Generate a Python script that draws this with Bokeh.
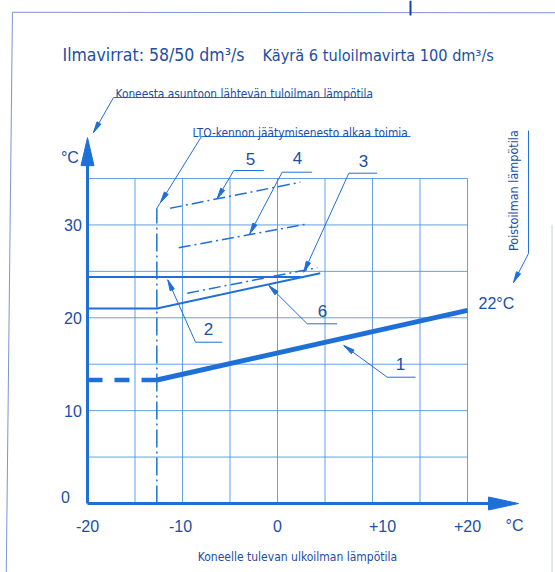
import numpy as np
from bokeh.plotting import figure
from bokeh.models import Range1d
from bokeh.core.properties import value
from bokeh.embed import file_html
from bokeh.resources import INLINE

# ---------------- data ----------------
x_ticks = [-20, -10, 0, 10, 20]
x_tick_labels = ["-20", "-10", "0", "+10", "+20"]
y_ticks = [0, 10, 20, 30]
y_tick_labels = ["0", "10", "20", "30"]
grid_x = [-15, -10, -5, 0, 5, 10, 15, 20]
grid_y = [5, 10, 15, 20, 25, 30, 35]

frost_x = -12.7          # LTO-kennon jäätymisenesto alkaa toimia
frost_top = 31.8

c1_flat_x = [-20, -12.7]
c1_flat_y = [13.3, 13.3]
c1_x = [-12.7, 20]
c1_y = [13.3, 20.8]
c2_x = [-20, 2.5]
c2_y = [24.4, 24.4]
c3_x = [-9.5, 4.2]
c3_y = [22.65, 25.4]
c4_x = [-10.4, 3.1]
c4_y = [27.55, 30.1]
c5_x = [-11.3, 2.4]
c5_y = [31.8, 34.6]
c6_x = [-20, -12.7, 4.5]
c6_y = [21.0, 21.0, 24.8]

# ---------------- figure ----------------
W, H = 555, 572
X0, X1 = -29.158, 29.263
Y0, Y1 = -7.431, 54.17
SX = W / (X1 - X0)
SY = H / (Y1 - Y0)

p = figure(width=W, height=H, x_range=Range1d(X0, X1), y_range=Range1d(Y0, Y1),
           x_axis_type=None, y_axis_type=None, output_backend="svg",
           toolbar_location=None, min_border=0)
p.outline_line_color = None
p.grid.visible = False
p.background_fill_color = "white"

LINE = "#1f6fd8"
GRID = "#4a8fdc"
TXT = "#1b4ea6"
NARROW = value("'Noto Sans Condensed', 'DejaVu Sans Condensed', 'Roboto Condensed', Roboto, sans-serif")
SANS = value("Liberation Sans")


def head(tip, back, length, half):
    dx = (tip[0] - back[0]) * SX
    dy = (tip[1] - back[1]) * SY
    n = np.hypot(dx, dy)
    ux, uy = dx / n, dy / n
    bx, by = -ux * length, -uy * length
    nx, ny = -uy * half, ux * half
    xs = [tip[0], tip[0] + (bx + nx) / SX, tip[0] + (bx - nx) / SX]
    ys = [tip[1], tip[1] + (by + ny) / SY, tip[1] + (by - ny) / SY]
    return xs, ys


# scan frame lines
p.line([-27.9, -28.55], [52.9, Y0], line_color="#7d95c8", line_width=1)
p.line([-27.9, X1], [52.9, 52.85], line_color="#7d95c8", line_width=1)
p.line([14.0, 14.0], [52.55, Y1], line_color="#1a3fb0", line_width=2)
p.line([28.9, 28.9], [Y0, 30], line_color="#c8cfdc", line_width=1)

# grid
p.segment(x0=grid_x, y0=[0] * len(grid_x), x1=grid_x, y1=[35] * len(grid_x),
          line_color=GRID, line_width=1, line_alpha=0.85)
p.segment(x0=[-20] * len(grid_y), y0=grid_y, x1=[20] * len(grid_y), y1=grid_y,
          line_color=GRID, line_width=1, line_alpha=0.85)

# axes with arrows
yax_tip = (-20, 39.4)
xax_tip = (25.37, 0)
hx, hy = head(yax_tip, (-20, 0), 28, 6.5)
p.patch(hx, hy, fill_color=LINE, line_color=LINE)
p.line([-20, -20], [0, yax_tip[1] - 20 / SY], line_color=LINE, line_width=3)
hx, hy = head(xax_tip, (-20, 0), 30, 6.5)
p.patch(hx, hy, fill_color=LINE, line_color=LINE)
p.line([-20, xax_tip[0] - 22 / SX], [0, 0], line_color=LINE, line_width=3)

# frost protection vertical line
p.line([frost_x, frost_x], [0, frost_top], line_color=LINE, line_width=1.5,
       line_dash="18 4 2 4")

# curves
p.line(c1_flat_x, c1_flat_y, line_color=LINE, line_width=4.5, line_dash="15 12")
p.line(c1_x, c1_y, line_color=LINE, line_width=5)
p.line(c6_x, c6_y, line_color=LINE, line_width=2)
p.line(c2_x, c2_y, line_color=LINE, line_width=2)
for cx, cy in [(c3_x, c3_y), (c4_x, c4_y), (c5_x, c5_y)]:
    p.line(cx, cy, line_color=LINE, line_width=1.5, line_dash="12 4 2 4")

# leader lines (annotation positions)
leaders = [
    ([-6.36, -4.60, -1.44], [32.81, 35.86, 35.86]),   # 5
    ([-2.92, 0.49, 3.64], [29.04, 35.68, 35.68]),     # 4
    ([2.77, 7.51, 10.49], [24.91, 35.57, 35.57]),     # 3
    ([-0.92, 3.13, 6.28], [23.48, 19.35, 19.35]),     # 6
    ([-11.55, -8.63, -5.82], [24.09, 17.37, 17.37]),  # 2
    ([6.98, 11.55, 14.53], [17.02, 13.60, 13.60]),    # 1
    ([-19.37, -17.26, 9.79], [39.95, 43.72, 43.72]),  # Koneesta ...
    ([-12.32, -8.0, 14.0], [32.41, 39.52, 39.52]),    # LTO ...
    ([24.84, 26.42, 26.42], [23.80, 26.92, 40.17]),   # Poistoilman ...
]
p.multi_line([l[0] for l in leaders], [l[1] for l in leaders],
             line_color=LINE, line_width=1)
p.line([frost_x, -12.32], [frost_top, 32.41], line_color=LINE, line_width=1)
hxs, hys = [], []
for lx, ly in leaders:
    xs, ys = head((lx[0], ly[0]), (lx[1], ly[1]), 11, 2.3)
    hxs.append(xs)
    hys.append(ys)
p.patches(hxs, hys, fill_color=LINE, line_color=LINE, line_width=1)

# tick labels
p.text(x=[t for t in x_ticks], y=[-2.37] * len(x_ticks), text=x_tick_labels,
       x_offset=[0, -2, 0, 10, 0],
       text_font=SANS, text_font_size="16px", text_color=TXT,
       text_align="center", text_baseline="middle")
p.text(x=[-20.6] * len(y_ticks), y=y_ticks, text=y_tick_labels,
       x_offset=[-12, 0, 0, 0], y_offset=[-6, 0, 0, 0],
       text_font=SANS, text_font_size="16px", text_color=TXT,
       text_align="right", text_baseline="middle")
p.text(x=[24.0], y=[-2.37], text=["°C"], text_font=SANS, text_font_size="16px",
       text_color=TXT, text_align="left", text_baseline="middle")
p.text(x=[-22.8], y=[37.3], text=["°C"], text_font=SANS, text_font_size="16px",
       text_color=TXT, text_align="left", text_baseline="middle")
p.text(x=[21.16], y=[21.54], text=["22°C"], text_font=SANS, text_font_size="16px",
       text_color=TXT, text_align="left", text_baseline="middle")

# curve numbers
p.text(x=[-2.84, 2.1, 9.05, 4.74, -7.26, 12.95], y=[37.15, 37.2, 36.9, 20.68, 18.74, 14.97],
       text=["5", "4", "3", "6", "2", "1"], text_font=SANS, text_font_size="17px",
       text_color=TXT, text_align="center", text_baseline="middle")

# titles and annotations
p.text(x=[-22.63], y=[48.25], text=["Ilmavirrat: 58/50 dm³/s"],
       text_font=NARROW, text_font_size="17.5px", text_color=TXT,
       text_align="left", text_baseline="alphabetic")
p.text(x=[-1.58], y=[48.25], text=["Käyrä 6 tuloilmavirta 100 dm³/s"],
       text_font=NARROW, text_font_size="16.2px", text_color=TXT,
       text_align="left", text_baseline="alphabetic")
p.text(x=[-17.05], y=[44.15], text=["Koneesta asuntoon lähtevän tuloilman lämpötila"],
       text_font=NARROW, text_font_size="11.8px", text_color=TXT,
       text_align="left", text_baseline="alphabetic")
p.text(x=[-8.95], y=[39.95], text=["LTO-kennon jäätymisenesto alkaa toimia"],
       text_font=NARROW, text_font_size="11.8px", text_color=TXT,
       text_align="left", text_baseline="alphabetic")
p.text(x=[24.84], y=[33.7], text=["Poistoilman lämpötila"], angle=np.pi / 2,
       text_font=NARROW, text_font_size="12.5px", text_color=TXT,
       text_align="center", text_baseline="middle")
p.text(x=[2.1], y=[-5.8], text=["Koneelle tulevan ulkoilman lämpötila"],
       text_font=NARROW, text_font_size="12px", text_color=TXT,
       text_align="center", text_baseline="middle")

open("out.html", "w").write(file_html(p, INLINE))
